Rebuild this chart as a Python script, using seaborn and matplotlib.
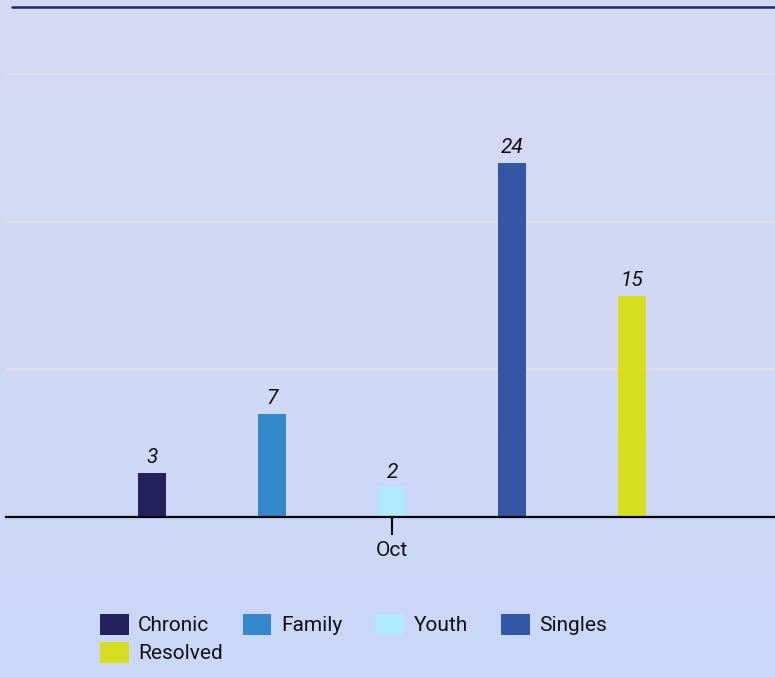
import numpy as np
import pandas as pd
import matplotlib
matplotlib.use("Agg")
import matplotlib.pyplot as plt
import seaborn as sns
from matplotlib.patches import Patch
from matplotlib.lines import Line2D

months = ["Oct"]
categories = ["Chronic", "Family", "Youth", "Singles", "Resolved"]
values = [3, 7, 2, 24, 15]
colors = ["#25215f", "#3389cb", "#b1ebfb", "#3356a5", "#d7de22"]
grid_values = [10, 20, 30]

df = pd.DataFrame({"month": months * len(categories), "category": categories, "value": values})

sns.set_theme(style="white")
plt.rcParams["font.family"] = ["Roboto", "DejaVu Sans"]

W, H = 775, 677
fig = plt.figure(figsize=(W / 100, H / 100), dpi=100)

# background gradient
bg = fig.add_axes([0, 0, 1, 1], zorder=-10)
grad = np.linspace(0, 1, 256).reshape(-1, 1)
c_top = np.array(matplotlib.colors.to_rgb("#d6daf1"))
c_bot = np.array(matplotlib.colors.to_rgb("#cbd7f8"))
img = c_top[None, None, :] * (1 - grad[:, :, None]) + c_bot[None, None, :] * grad[:, :, None]
bg.imshow(img, aspect="auto", extent=[0, 1, 0, 1], origin="upper")
bg.set_axis_off()

left = 6 / W
bottom = 1 - 517 / H
top = 1 - 6 / H
ax = fig.add_axes([left, bottom, 1 - left, top - bottom])
ax.patch.set_alpha(0)

sns.barplot(data=df, x="month", y="value", hue="category", hue_order=categories,
            palette=colors, width=0.8, gap=0.767, ax=ax, legend=False, saturation=1,
            linewidth=0, edgecolor="none", zorder=3)

ax.set_xlim(-0.515, 0.511)
ax.set_ylim(0, 34.64)

for gv in grid_values:
    ax.axhline(gv, color="#dcdde6", lw=1.6, zorder=1)

for cont in ax.containers:
    ax.bar_label(cont, fontsize=15, fontstyle="italic", padding=4, color="#111111")

for s in ["top", "right", "left"]:
    ax.spines[s].set_visible(False)
ax.spines["bottom"].set_color("black")
ax.spines["bottom"].set_linewidth(1.6)
ax.spines["bottom"].set_zorder(5)
ax.set_yticks([])
ax.set_xlabel("")
ax.set_ylabel("")
ax.tick_params(axis="x", length=13, width=1.5, color="black", pad=4, labelsize=15,
               labelcolor="#111111", bottom=True)

# top rule
fig.add_artist(Line2D([12 / W, 1], [1 - 6.5 / H, 1 - 6.5 / H], color="#1c2a6b", lw=1.8,
                      transform=fig.transFigure))

handles = [Patch(facecolor=c, edgecolor="none") for c in colors]
leg_kw = dict(loc="upper left", bbox_transform=fig.transFigure, frameon=False, borderpad=0,
              borderaxespad=0, fontsize=15, handlelength=1.38, handleheight=1.15,
              handletextpad=0.45, columnspacing=1.6, labelcolor="#111111")
fig.legend(handles[:4], categories[:4], bbox_to_anchor=(100 / W, 1 - 614 / H), ncol=4, **leg_kw)
fig.legend(handles[4:], categories[4:], bbox_to_anchor=(100 / W, 1 - 642 / H), ncol=1, **leg_kw)

fig.savefig("out.png", dpi=100)
